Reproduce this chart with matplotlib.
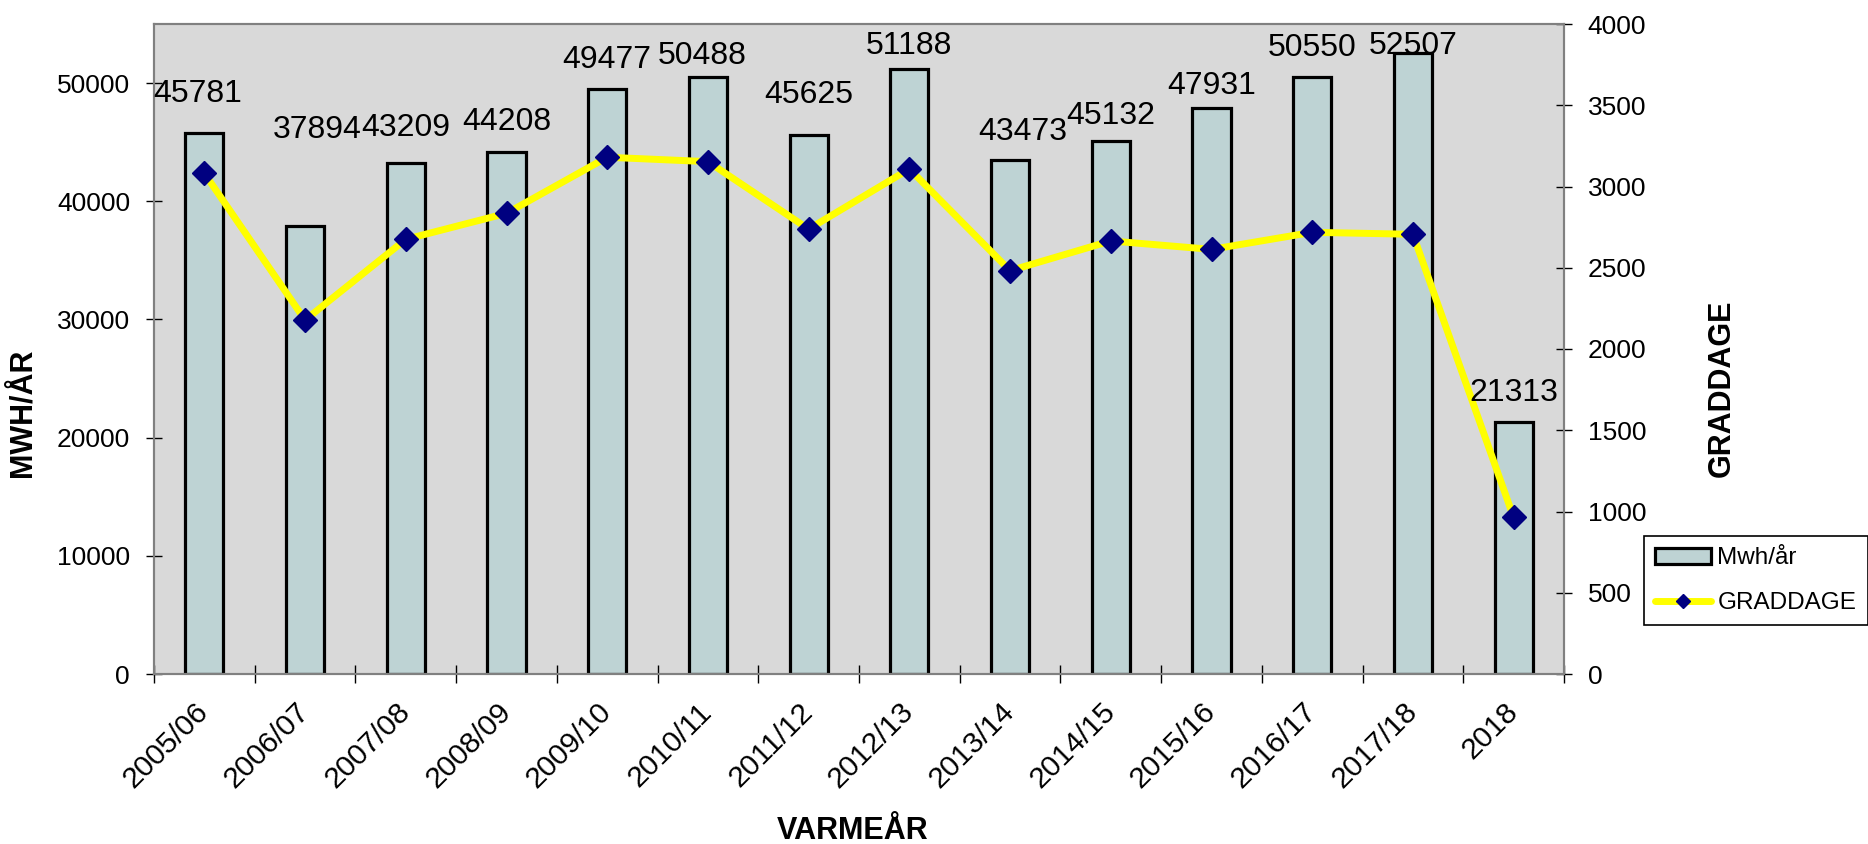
import matplotlib
matplotlib.use('Agg')
import matplotlib.pyplot as plt
import numpy as np

categories = ['2005/06', '2006/07', '2007/08', '2008/09', '2009/10', '2010/11', '2011/12',
              '2012/13', '2013/14', '2014/15', '2015/16', '2016/17', '2017/18', '2018']
mwh = [45781, 37894, 43209, 44208, 49477, 50488, 45625, 51188, 43473, 45132, 47931, 50550, 52507, 21313]
graddage = [3081, 2178, 2675, 2835, 3180, 3153, 2738, 3108, 2482, 2665, 2613, 2718, 2706, 964]
# hand-placed data label heights (left-axis units) and horizontal nudges (category units)
label_y = [49100, 46000, 46200, 46700, 51950, 52250, 49000, 53100, 45900, 47200, 49750, 52950, 53150, 23800]
label_dx = [-0.065, 0.12, 0.0, 0.0, 0.0, -0.055, 0.0, 0.0, 0.13, 0.0, 0.0, 0.0, 0.0, 0.0]
left_ticks = [0, 10000, 20000, 30000, 40000, 50000]
right_ticks = [0, 500, 1000, 1500, 2000, 2500, 3000, 3500, 4000]

plt.rcParams['font.family'] = ['Liberation Sans', 'DejaVu Sans']

W, H = 1868, 844
fig = plt.figure(figsize=(W / 100, H / 100), dpi=100)
ax = fig.add_axes([154 / W, 1 - 674 / H, (1564 - 154) / W, (674 - 24) / H])
ax.set_facecolor('#D9D9D9')

x = np.arange(len(categories))
ax.bar(x, mwh, width=0.38, color='#BED3D4', edgecolor='black', linewidth=2.3,
       label='Mwh/år', zorder=2)
ax.set_xlim(-0.5, len(categories) - 0.5)
ax.set_ylim(0, 55000)
ax.set_yticks(left_ticks)
ax.set_yticklabels([str(v) for v in left_ticks])
ax.tick_params(axis='y', direction='inout', length=11.5, width=1, labelsize=19, pad=11.5)
ax.set_xticks(x)
ax.set_xticklabels(categories, rotation=45, ha='right', va='center',
                   rotation_mode='anchor', fontsize=21.5)
ax.tick_params(axis='x', which='major', length=0, pad=24)
ax.set_xticks(np.arange(-0.5, len(categories)), minor=True)
ax.tick_params(axis='x', which='minor', direction='inout', length=13, width=1)

ax2 = ax.twinx()
ax2.plot(x, graddage, color='#FFFF00', lw=5, marker='D', ms=12, mfc='#000080',
         mec='#000080', label='GRADDAGE', zorder=3, solid_joinstyle='round',
         solid_capstyle='round')
ax2.set_ylim(0, 4000)
ax2.set_yticks(right_ticks)
ax2.set_yticklabels([str(v) for v in right_ticks])
ax2.tick_params(axis='y', direction='inout', length=11, width=1, labelsize=19, pad=11.5)

for a in (ax, ax2):
    for s in a.spines.values():
        s.set_color('#808080')
        s.set_linewidth(1.5)

for i in range(len(categories)):
    ax2.text(x[i] + label_dx[i], label_y[i], str(mwh[i]), transform=ax.transData,
             ha='center', va='center', fontsize=23, zorder=6)

h1, l1 = ax.get_legend_handles_labels()
h2, l2 = ax2.get_legend_handles_labels()
leg = fig.legend(h1 + h2, l1 + l2, loc='upper left', bbox_to_anchor=(1644 / W, 1 - 536 / H),
                 borderaxespad=0, fontsize=17.5, frameon=True, fancybox=False,
                 edgecolor='black', framealpha=1, handlelength=2.3, handleheight=0.6,
                 handletextpad=0.25, labelspacing=0.93, borderpad=0.47, markerscale=0.6)
leg.get_frame().set_linewidth(1.2)

fig.text(24 / W, 1 - 413 / H, 'MWH/ÅR', rotation=90, ha='center', va='center',
         fontsize=22, fontweight='bold')
fig.text(1722 / W, 1 - 388.5 / H, 'GRADDAGE', rotation=90, ha='center', va='center',
         fontsize=22, fontweight='bold')
fig.text(853 / W, 1 - 839 / H, 'VARMEÅR', ha='center', va='baseline',
         fontsize=22, fontweight='bold')

fig.savefig('out.png', dpi=100)
